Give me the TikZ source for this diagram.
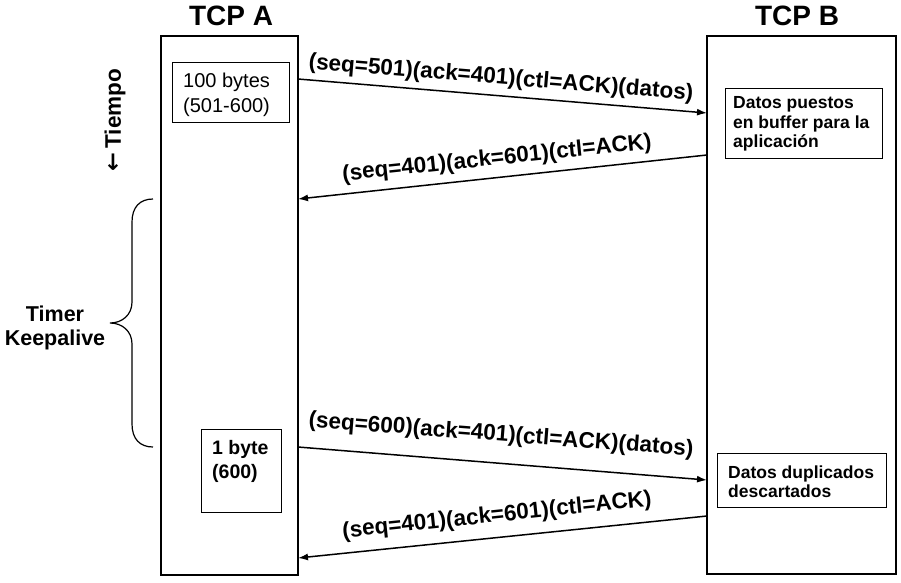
\documentclass[tikz,border=0pt]{standalone}
\usepackage{fontspec}
\setmainfont{Liberation Sans}
\newfontfamily\arrowfont{DejaVu Sans}
\usetikzlibrary{arrows.meta}
\begin{document}
\begin{tikzpicture}[x=1pt,y=-1pt,
  life/.style={draw, line width=1.4pt, inner sep=0pt},
  inbox/.style={draw, line width=1.4pt, inner sep=0pt, anchor=north west},
  msg/.style={line width=1.5pt, -{Latex[length=10pt,width=7pt]}},
  lbl/.style={font=\fontsize{22.5}{26}\selectfont\bfseries, inner sep=0pt},
  ttl/.style={font=\fontsize{28}{32}\selectfont\bfseries, inner sep=0pt},
  boxtxt/.style={inner sep=0pt, anchor=north west, align=left},
  side/.style={font=\fontsize{21.5}{23.5}\selectfont\bfseries, inner sep=0pt, align=center}
]
\useasboundingbox (0,0) rectangle (901,582);
% lifelines
\node[life, minimum width=137pt, minimum height=539pt] (A) at (229.5,305.5) {};
\node[life, minimum width=189pt, minimum height=538pt] (B) at (801.5,305) {};
\node[ttl] (tA) at (231,16) {TCP A};
\node[ttl] (tB) at (797,16) {TCP B};
% inner boxes
\node[inbox, minimum width=117pt, minimum height=60pt] (b1) at (172,62) {};
\node[boxtxt, font=\fontsize{20}{25}\selectfont] (t1) at (183,72.5) {100 bytes\\(501-600)};
\node[inbox, minimum width=80pt, minimum height=83pt] (b2) at (201,429) {};
\node[boxtxt, font=\fontsize{19.5}{24}\selectfont\bfseries] (t2) at (212,440) {1 byte\\(600)};
\node[inbox, minimum width=157pt, minimum height=70pt] (b3) at (725,88) {};
\node[boxtxt, font=\fontsize{17.5}{19.5}\selectfont\bfseries] (t3) at (733,96.3) {Datos puestos\\en buffer para la\\aplicación};
\node[inbox, minimum width=169pt, minimum height=54pt] (b4) at (717,453) {};
\node[boxtxt, font=\fontsize{17.5}{19.5}\selectfont\bfseries] (t4) at (728,465.2) {Datos duplicados\\descartados};
% message end points
\coordinate (m1a) at (298,79);  \coordinate (m1b) at (707,113);
\coordinate (m2a) at (707,155); \coordinate (m2b) at (298,199);
\coordinate (m3a) at (298,447); \coordinate (m3b) at (707,480);
\coordinate (m4a) at (707,516); \coordinate (m4b) at (298,558);
\draw[msg] (m1a) -- (m1b);
\draw[msg] (m2a) -- (m2b);
\draw[msg] (m3a) -- (m3b);
\draw[msg] (m4a) -- (m4b);
\node[lbl, rotate=-4.7] (l1) at (501,78.5) {(seq=501)(ack=401)(ctl=ACK)(datos)};
\node[lbl, rotate=6] (l2) at (497,159) {(seq=401)(ack=601)(ctl=ACK)};
\node[lbl, rotate=-4.4] (l3) at (501,435.5) {(seq=600)(ack=401)(ctl=ACK)(datos)};
\node[lbl, rotate=6] (l4) at (497,516) {(seq=401)(ack=601)(ctl=ACK)};
% time label
\node[rotate=90, font=\fontsize{22.5}{26}\selectfont\bfseries, inner sep=0pt] (tiempo) at (115,120) {{\arrowfont ←}\kern4pt Tiempo};
% keepalive brace
\draw[line width=1.2pt] (153,199) .. controls (140,199) and (132,207) .. (132,222)
  -- (132,302) .. controls (132,315) and (122,323) .. (110,323)
  .. controls (122,323) and (132,331) .. (132,344)
  -- (132,424) .. controls (132,439) and (140,447) .. (153,447);
\node[side] (timer) at (55,328) {Timer\\Keepalive};
\end{tikzpicture}
\end{document}
